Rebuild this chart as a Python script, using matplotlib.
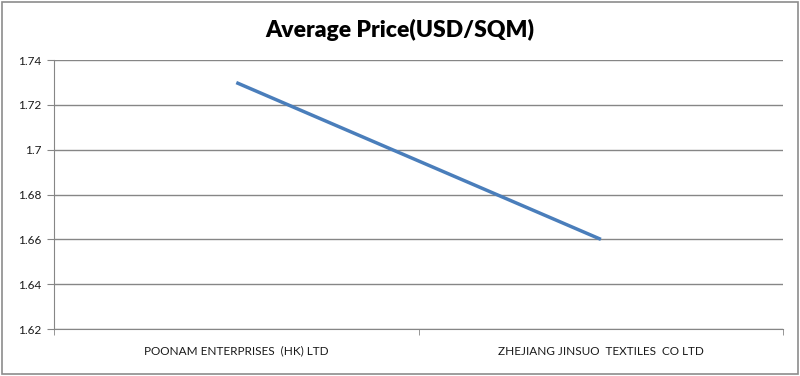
import matplotlib
matplotlib.use("Agg")
import matplotlib.pyplot as plt
from matplotlib.patches import Rectangle
from matplotlib.ticker import FixedLocator, FuncFormatter

empresas = ["POONAM ENTERPRISES  (HK) LTD", "ZHEJIANG JINSUO  TEXTILES  CO LTD"]
precios = [1.73, 1.66]
y_ticks = [1.62, 1.64, 1.66, 1.68, 1.70, 1.72, 1.74]

plt.rcParams['font.family'] = ['Lato', 'DejaVu Sans']

fig = plt.figure(figsize=(8, 3.76), dpi=100)
fig.patches.append(Rectangle((0.003, 0.005), 0.994, 0.99, transform=fig.transFigure,
                             fill=False, edgecolor="#8c8c8c", linewidth=1.2))

ax = fig.add_axes([0.0675, 0.125, 0.9115, 0.715])
x = list(range(len(empresas)))
ax.plot(x, precios, color="#4a7ebb", linewidth=2.5, solid_capstyle="butt")

ax.set_xlim(-0.5, len(empresas) - 0.5)
ax.set_ylim(y_ticks[0], y_ticks[-1])
ax.set_yticks(y_ticks)
ax.yaxis.set_major_formatter(FuncFormatter(lambda v, p: f"{v:g}"))
ax.grid(True, axis="y", color="#868686", linewidth=1)
ax.set_axisbelow(True)

ax.set_xticks(x)
ax.set_xticklabels(empresas, fontsize=8.5, color="#1a1a1a")
ax.tick_params(axis="x", which="major", length=0, pad=12)
ax.xaxis.set_minor_locator(FixedLocator([i - 0.5 for i in range(len(empresas) + 1)]))
ax.tick_params(axis="x", which="minor", length=4, color="#868686", direction="out")
ax.tick_params(axis="y", length=5, color="#868686", labelsize=8.5, labelcolor="#1a1a1a", pad=4)

for lado in ["top", "right"]:
    ax.spines[lado].set_visible(False)
for lado in ["left", "bottom"]:
    ax.spines[lado].set_color("#868686")

fig.text(0.5, 0.92, "Average Price(USD/SQM)", ha="center", va="center",
         fontsize=16.5, fontweight="heavy", color="#000000")

fig.savefig("out.png", dpi=100)
